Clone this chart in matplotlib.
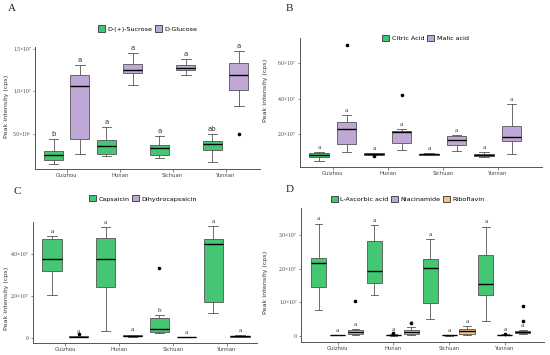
import matplotlib
matplotlib.use("Agg")
import matplotlib.pyplot as plt
from matplotlib.patches import Patch

CATS = ["Guizhou", "Hunan", "Sichuan", "Yunnan"]

# each box: [whisker low, q1, median, q3, whisker high]
# panel A (x1e7)
SUCROSE = [[0.139, 0.19, 0.25, 0.289, 0.437], [0.238, 0.262, 0.35, 0.42, 0.58],
           [0.214, 0.25, 0.33, 0.36, 0.476], [0.163, 0.31, 0.38, 0.41, 0.496]]
SUCROSE_OUT = [[], [], [], []]
GLUCOSE = [[0.258, 0.437, 1.071, 1.199, 1.31], [1.075, 1.22, 1.26, 1.33, 1.46],
           [1.19, 1.25, 1.28, 1.31, 1.38], [0.825, 1.02, 1.20, 1.34, 1.48]]
GLUCOSE_OUT = [[], [], [], [0.50]]
SUCROSE_LET = ["b", "a", "a", "ab"]
GLUCOSE_LET = ["a", "a", "a", "a"]

# panel B (x1e7)
CITRIC = [[0.52, 0.72, 0.83, 0.94, 1.0], [0.83, 0.85, 0.9, 0.94, 0.96],
          [0.84, 0.87, 0.9, 0.92, 0.94], [0.74, 0.8, 0.87, 0.92, 1.03]]
CITRIC_OUT = [[], [0.76], [], []]
MALIC = [[1.0, 1.44, 2.28, 2.67, 3.09], [1.11, 1.52, 2.11, 2.2, 2.29],
         [1.06, 1.4, 1.68, 1.92, 1.98], [0.92, 1.61, 1.87, 2.48, 3.7]]
MALIC_OUT = [[7.02], [4.2], [], []]
CITRIC_LET = ["a", "a", "a", "a"]
MALIC_LET = ["a", "a", "a", "a"]

# panel C (x1e7)
CAPSAICIN = [[2.06, 3.2, 3.76, 4.72, 4.87], [0.31, 2.4, 3.78, 4.78, 5.3],
             [0.23, 0.28, 0.42, 0.93, 1.07], [1.16, 1.72, 4.47, 4.7, 5.34]]
CAPSAICIN_OUT = [[], [], [3.31], []]
DIHYDRO = [[0.02, 0.03, 0.05, 0.06, 0.08], [0.05, 0.07, 0.09, 0.12, 0.15],
           [0.01, 0.02, 0.03, 0.04, 0.05], [0.04, 0.05, 0.07, 0.09, 0.11]]
DIHYDRO_OUT = [[0.16], [], [], []]
CAPSAICIN_LET = ["a", "a", "b", "a"]
DIHYDRO_LET = ["a", "a", "a", "a"]

# panel D (x1e7)
ASCORBIC = [[0.77, 1.44, 2.18, 2.31, 3.34], [1.22, 1.58, 1.92, 2.81, 3.30],
            [0.5, 0.99, 2.02, 2.27, 2.88], [0.45, 1.22, 1.54, 2.39, 3.25]]
ASCORBIC_OUT = [[], [], [], []]
NIACIN = [[0.01, 0.015, 0.02, 0.025, 0.03], [0.005, 0.01, 0.02, 0.03, 0.04],
          [0.005, 0.01, 0.015, 0.02, 0.03], [0.01, 0.015, 0.02, 0.03, 0.04]]
NIACIN_OUT = [[], [0.07], [], [0.05]]
RIBO = [[0.03, 0.05, 0.12, 0.17, 0.2], [0.03, 0.05, 0.1, 0.16, 0.26],
        [0.02, 0.05, 0.13, 0.2, 0.30], [0.04, 0.09, 0.12, 0.15, 0.18]]
RIBO_OUT = [[1.04], [0.37], [], [0.44, 0.88]]
D_LET = ["a", "a", "a", "a"]

GREEN = "#45C673"
PURPLE = "#BFA8D6"
ORANGE = "#F6C37E"
EDGE = "#555555"
SERIF = ["Liberation Serif", "DejaVu Serif"]


def draw_series(ax, boxes, outs, letters, offset, width, color, let_font):
    stats = []
    for b, o in zip(boxes, outs):
        stats.append(dict(whislo=b[0], q1=b[1], med=b[2], q3=b[3], whishi=b[4], fliers=o))
    pos = [i + offset for i in range(len(boxes))]
    ax.bxp(stats, positions=pos, widths=width, capwidths=width * 0.5,
           patch_artist=True, manage_ticks=False,
           boxprops=dict(facecolor=color, edgecolor=EDGE, linewidth=0.6),
           whiskerprops=dict(color=EDGE, linewidth=0.6),
           capprops=dict(color=EDGE, linewidth=0.6),
           medianprops=dict(color="black", linewidth=1.0),
           flierprops=dict(marker="o", markersize=1.6, markerfacecolor="black",
                           markeredgecolor="black"))
    for p, b, t in zip(pos, boxes, letters):
        ax.annotate(t, (p, b[4]), xytext=(0, 1.5), textcoords="offset points",
                    ha="center", va="bottom", fontsize=5, color="#333333",
                    family=let_font)


def style_axes(ax, xlim, ylim, yticks, ylabels):
    for s in ("top", "right"):
        ax.spines[s].set_visible(False)
    for s in ("left", "bottom"):
        ax.spines[s].set_color("#555555")
        ax.spines[s].set_linewidth(0.7)
    ax.set_xlim(*xlim)
    ax.set_ylim(*ylim)
    ax.set_xticks(range(len(CATS)))
    ax.set_xticklabels(CATS, fontsize=3.8, color="#444444")
    ax.set_yticks(yticks)
    ax.set_yticklabels(ylabels, fontsize=4, color="#444444", family=SERIF)
    ax.tick_params(length=1.8, width=0.5, color="#555555", pad=1.2)


def legend(ax, labels, colors, xy):
    handles = [Patch(facecolor=c, edgecolor="#333333", linewidth=0.6) for c in colors]
    ax.legend(handles, labels, loc="center", bbox_to_anchor=xy, ncol=len(labels),
              frameon=False, fontsize=4.6, handlelength=1.1, handleheight=1.1,
              handletextpad=0.4, columnspacing=0.4, borderaxespad=0)


fig = plt.figure(figsize=(5.5, 3.55), dpi=100)

# A
axA = fig.add_axes([0.0636, 0.524, 0.409, 0.344])
draw_series(axA, SUCROSE, SUCROSE_OUT, SUCROSE_LET, -0.25, 0.36, GREEN, "DejaVu Sans")
draw_series(axA, GLUCOSE, GLUCOSE_OUT, GLUCOSE_LET, 0.25, 0.36, PURPLE, "DejaVu Sans")
style_axes(axA, (-0.6, 3.65), (0.08, 1.53), [0.5, 1.0, 1.5],
           ["5.0×10⁶", "1.0×10⁷", "1.5×10⁷"])
legend(axA, ["D-(+)-Sucrose", "D-Glucose"], [GREEN, PURPLE], (0.5, 1.15))

# B
axB = fig.add_axes([0.545, 0.5296, 0.44, 0.363])
draw_series(axB, CITRIC, CITRIC_OUT, CITRIC_LET, -0.25, 0.36, GREEN, SERIF)
draw_series(axB, MALIC, MALIC_OUT, MALIC_LET, 0.25, 0.36, PURPLE, SERIF)
style_axes(axB, (-0.6, 3.8), (0.17, 7.4), [2, 4, 6],
           ["2.0×10⁷", "4.0×10⁷", "6.0×10⁷"])
legend(axB, ["Citric Acid", "Malic acid"], [GREEN, PURPLE], (0.52, 1.0))

# C
axC = fig.add_axes([0.06, 0.034, 0.407, 0.342])
draw_series(axC, CAPSAICIN, CAPSAICIN_OUT, CAPSAICIN_LET, -0.25, 0.36, GREEN, SERIF)
draw_series(axC, DIHYDRO, DIHYDRO_OUT, DIHYDRO_LET, 0.25, 0.36, PURPLE, SERIF)
style_axes(axC, (-0.6, 3.56), (-0.25, 5.55), [0, 2, 4],
           ["0", "2.0×10⁷", "4.0×10⁷"])
legend(axC, ["Capsaicin", "Dihydrocapsaicin"], [GREEN, PURPLE], (0.49, 1.19))

# D
axD = fig.add_axes([0.547, 0.036, 0.442, 0.378])
draw_series(axD, ASCORBIC, ASCORBIC_OUT, D_LET, -0.34, 0.27, GREEN, SERIF)
draw_series(axD, NIACIN, NIACIN_OUT, D_LET, 0.0, 0.27, PURPLE, SERIF)
draw_series(axD, RIBO, RIBO_OUT, D_LET, 0.32, 0.27, ORANGE, SERIF)
style_axes(axD, (-0.66, 3.7), (-0.19, 3.8), [0, 1, 2, 3],
           ["0", "1.0×10⁷", "2.0×10⁷", "3.0×10⁷"])
legend(axD, ["L-Ascorbic acid", "Niacinamide", "Riboflavin"],
       [GREEN, PURPLE, ORANGE], (0.44, 1.07))

# y labels and panel letters
for x, y in [(0.011, 0.70), (0.483, 0.745), (0.011, 0.16), (0.483, 0.205)]:
    fig.text(x, y, "Peak intensity (cps)", rotation=90, ha="center", va="center",
             fontsize=4.6, color="#333333")
for t, x, y in [("A", 0.022, 0.977), ("B", 0.526, 0.977), ("C", 0.031, 0.46), ("D", 0.527, 0.465)]:
    fig.text(x, y, t, ha="center", va="center", fontsize=8, family=SERIF, color="#222222")

fig.savefig("out.png", dpi=100)
